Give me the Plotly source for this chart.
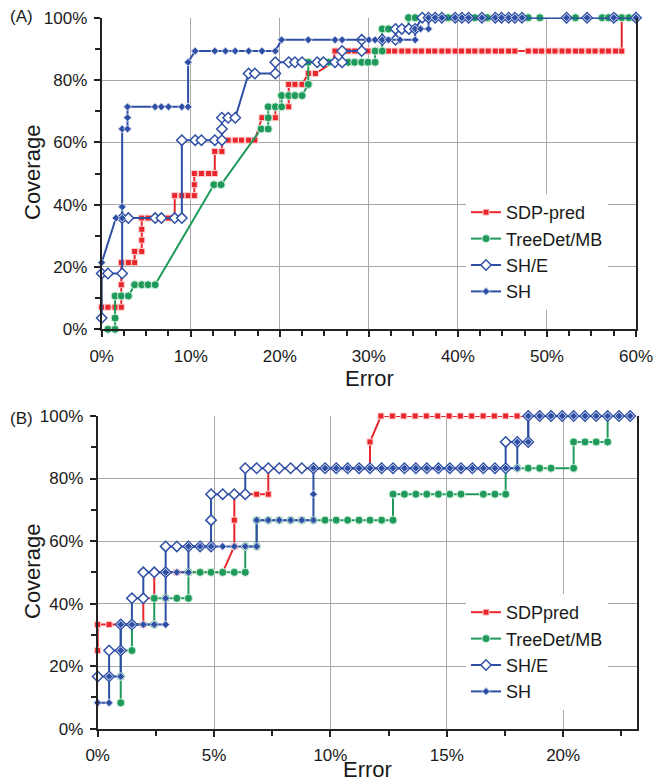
import plotly.graph_objects as go

# ---------------- Panel A data (Error %, Coverage %) ----------------
a_sdp_x = [0, 0.7, 1.5, 2.2, 2.2, 2.2, 3.0, 3.7, 3.7, 4.5, 4.5, 4.5, 4.5, 5.2, 6.0, 6.7, 7.5, 8.2, 8.2,
           9.0, 9.7, 10.4, 10.4, 10.4, 11.2, 12.0, 12.7, 12.7, 13.5, 13.5, 14.2, 15.0, 15.7, 16.5, 17.2,
           18.0, 18.7, 19.5, 19.5, 21.0, 21.0, 21.0, 21.7, 22.5, 23.2, 24.0, 26.0,
           26.2, 26.9, 27.7, 28.4, 29.2, 29.9, 30.7, 31.4, 32.2, 32.9, 33.7, 34.4, 35.2, 35.9, 36.7, 37.4,
           38.2, 38.9, 39.7, 40.4, 41.2, 41.9, 42.7, 43.4, 44.2, 44.9, 45.7, 46.4, 47.9, 48.7, 49.4, 50.2,
           50.9, 51.7, 52.4, 53.2, 53.9, 54.7, 55.4, 56.2, 56.9, 57.7, 58.4, 58.4]
a_sdp_y = [7.1, 7.1, 7.1, 7.1, 14.3, 21.4, 21.4, 21.4, 25.0, 25.0, 28.6, 32.1, 35.7, 35.7, 35.7, 35.7, 35.7, 35.7, 42.9,
           42.9, 42.9, 42.9, 46.4, 50.0, 50.0, 50.0, 50.0, 57.1, 57.1, 60.7, 60.7, 60.7, 60.7, 60.7, 60.7,
           67.9, 67.9, 67.9, 71.4, 71.4, 75.0, 78.6, 78.6, 78.6, 82.1, 82.1, 85.7,
           89.3, 89.3, 89.3, 89.3, 89.3, 89.3, 89.3, 89.3, 89.3, 89.3, 89.3, 89.3, 89.3, 89.3, 89.3, 89.3,
           89.3, 89.3, 89.3, 89.3, 89.3, 89.3, 89.3, 89.3, 89.3, 89.3, 89.3, 89.3, 89.3, 89.3, 89.3, 89.3,
           89.3, 89.3, 89.3, 89.3, 89.3, 89.3, 89.3, 89.3, 89.3, 89.3, 89.3, 100.0]

a_tree_x = [0.7, 1.5, 1.5, 1.5, 2.2, 3.0, 3.7, 4.5, 5.2, 6.0, 12.6, 13.4, 17.9, 18.7, 18.7, 18.7, 19.5,
            20.2, 20.2, 21.0, 21.7, 22.5, 23.2, 23.2, 24.7, 25.5, 26.2, 27.7, 28.4, 29.2, 29.9, 30.7, 30.7,
            31.5, 31.5, 32.2, 34.45, 34.45, 35.2, 35.95, 38.9, 41.9, 43.3, 47.9, 49.2, 53.2, 56.2, 56.9,
            57.7, 58.4, 59.2, 59.9]
a_tree_y = [0.0, 0.0, 3.6, 10.7, 10.7, 10.7, 14.3, 14.3, 14.3, 14.3, 46.4, 46.4, 64.3, 64.3, 67.9, 71.4, 71.4,
            71.4, 75.0, 75.0, 75.0, 75.0, 78.6, 85.7, 85.7, 85.7, 85.7, 85.7, 85.7, 85.7, 85.7, 85.7, 89.3,
            89.3, 96.4, 96.4, 96.4, 100, 100, 100, 100, 100, 100, 100, 100, 100, 100, 100,
            100, 100, 100, 100]

a_she_x = [0, 0, 0.7, 2.3, 2.3, 3.0, 6.0, 6.7, 8.2, 9.0, 9.0, 10.5, 11.2, 12.7, 13.5, 13.5, 13.5, 14.2, 15.0,
           16.5, 17.2, 19.5, 19.5, 21.0, 21.7, 22.5, 24.2, 24.9, 26.2, 27.0, 27.0, 29.2, 29.2, 31.5, 33.0,
           33.0, 33.7, 34.5, 35.2, 36.0, 36.7, 37.45, 38.2, 39.7, 40.45, 41.2, 42.7, 44.2, 44.9, 45.7,
           46.4, 47.2, 52.2, 54.5, 57.5, 60.0]
a_she_y = [3.6, 17.9, 17.9, 17.9, 35.7, 35.7, 35.7, 35.7, 35.7, 35.7, 60.7, 60.7, 60.7, 60.7, 60.7, 64.3, 67.9, 67.9, 67.9,
           82.1, 82.1, 82.1, 85.7, 85.7, 85.7, 85.7, 85.7, 85.7, 85.7, 85.7, 89.3, 89.3, 92.9, 92.9, 92.9,
           96.4, 96.4, 96.4, 96.4, 100, 100, 100, 100, 100, 100, 100, 100, 100, 100, 100,
           100, 100, 100, 100, 100, 100]

a_sh_x = [0, 1.6, 2.3, 2.3, 2.3, 2.9, 2.9, 2.9, 6.0, 6.7, 7.5, 9.0, 9.7, 9.7, 10.5, 12.7, 13.9, 15.0, 16.5,
          18.0, 19.5, 20.2, 23.2, 26.2, 27.0, 30.0, 30.7, 31.5, 32.2, 33.5, 35.2, 35.2, 35.8, 36.7, 36.7,
          37.45, 38.2, 39.7, 40.45, 41.2, 42.7, 44.2, 44.9, 45.7, 46.4, 47.2, 52.2, 54.5, 57.5, 60.0]
a_sh_y = [21.4, 35.7, 35.7, 39.3, 64.3, 64.3, 67.9, 71.4, 71.4, 71.4, 71.4, 71.4, 71.4, 85.7, 89.3, 89.3, 89.3, 89.3, 89.3,
          89.3, 89.3, 92.9, 92.9, 92.9, 92.9, 92.9, 92.9, 92.9, 92.9, 92.9, 92.9, 96.4, 96.4, 96.4, 100,
          100, 100, 100, 100, 100, 100, 100, 100, 100, 100, 100, 100, 100, 100, 100]

# ---------------- Panel B data (Error %, Coverage %) ----------------
b_sdp_x = [0, 0, 0.49, 0.99, 1.47, 1.96, 1.96, 2.43, 2.43, 2.92, 3.4, 3.9, 4.4, 4.87, 5.37, 5.87, 5.87, 5.87,
           6.34, 6.83, 7.33, 7.33, 7.8, 8.29, 8.77, 9.27, 9.77, 10.25, 10.74, 11.23, 11.7, 11.7, 12.17,
           12.66, 13.15, 13.64, 14.12, 14.61, 15.1, 15.58, 16.07, 16.56, 17.04, 17.53, 18.02, 18.5]
b_sdp_y = [25.0, 33.3, 33.3, 33.3, 33.3, 33.3, 41.7, 41.7, 50.0, 50.0, 50.0, 50.0, 50.0, 50.0, 50.0, 58.3, 66.7, 75.0,
           75.0, 75.0, 75.0, 83.3, 83.3, 83.3, 83.3, 83.3, 83.3, 83.3, 83.3, 83.3, 83.3, 91.7, 100,
           100, 100, 100, 100, 100, 100, 100, 100, 100, 100, 100, 100, 100]

b_tree_x = [0.99, 0.99, 0.99, 1.47, 1.47, 2.43, 2.43, 2.92, 3.4, 3.9, 3.9, 4.4, 4.87, 5.37, 5.87, 6.34, 6.34,
            6.83, 6.83, 7.33, 7.8, 8.29, 8.77, 9.27, 9.77, 10.25, 10.74, 11.23, 11.7, 12.2, 12.69, 12.69,
            13.18, 13.67, 14.14, 14.64, 15.13, 15.61, 16.57, 17.07, 17.53, 17.53, 18.03, 18.5, 18.99,
            19.48, 20.45, 20.45, 20.94, 21.42, 21.91, 21.91]
b_tree_y = [8.3, 16.7, 25.0, 25.0, 33.3, 33.3, 41.7, 41.7, 41.7, 41.7, 50.0, 50.0, 50.0, 50.0, 50.0, 50.0, 58.3,
            58.3, 66.7, 66.7, 66.7, 66.7, 66.7, 66.7, 66.7, 66.7, 66.7, 66.7, 66.7, 66.7, 66.7, 75.0,
            75.0, 75.0, 75.0, 75.0, 75.0, 75.0, 75.0, 75.0, 75.0, 83.3, 83.3, 83.3, 83.3,
            83.3, 83.3, 91.7, 91.7, 91.7, 91.7, 100]

b_she_x = [0, 0.49, 0.49, 0.99, 0.99, 1.47, 1.47, 1.96, 1.96, 2.43, 2.92, 2.92, 3.4, 3.9, 4.4, 4.87, 4.87, 4.87,
           5.37, 5.87, 6.34, 6.34, 6.83, 7.33, 7.8, 8.29, 8.77, 9.27, 9.77, 10.25, 10.74, 11.23, 11.7, 12.2,
           12.69, 13.18, 13.67, 14.14, 14.64, 15.13, 15.61, 16.1, 16.57, 17.07, 17.53, 17.53, 18.03, 18.5,
           18.5, 18.99, 19.48, 19.96, 20.45, 20.94, 21.42, 21.91, 22.4, 22.88]
b_she_y = [16.7, 16.7, 25.0, 25.0, 33.3, 33.3, 41.7, 41.7, 50.0, 50.0, 50.0, 58.3, 58.3, 58.3, 58.3, 58.3, 66.7, 75.0,
           75.0, 75.0, 75.0, 83.3, 83.3, 83.3, 83.3, 83.3, 83.3, 83.3, 83.3, 83.3, 83.3, 83.3, 83.3, 83.3,
           83.3, 83.3, 83.3, 83.3, 83.3, 83.3, 83.3, 83.3, 83.3, 83.3, 83.3, 91.7, 91.7, 91.7,
           100, 100, 100, 100, 100, 100, 100, 100, 100, 100]

b_sh_x = [0, 0.49, 0.49, 0.99, 0.99, 0.99, 1.47, 1.96, 2.43, 2.92, 2.92, 2.92, 3.4, 3.9, 3.9, 4.4, 4.87, 5.37,
          5.87, 6.34, 6.83, 6.83, 7.33, 7.8, 8.29, 8.77, 9.27, 9.27, 9.27, 9.77, 10.25, 10.74, 11.23, 11.7,
          12.2, 12.69, 13.18, 13.67, 14.14, 14.64, 15.13, 15.61, 16.1, 16.57, 17.07, 17.53, 18.03, 18.03,
          18.5, 18.5, 18.99, 19.48, 19.96, 20.45, 20.94, 21.42, 21.91, 22.4, 22.88]
b_sh_y = [8.3, 8.3, 16.7, 16.7, 25.0, 33.3, 33.3, 33.3, 33.3, 33.3, 41.7, 50.0, 50.0, 50.0, 58.3, 58.3, 58.3, 58.3,
          58.3, 58.3, 58.3, 66.7, 66.7, 66.7, 66.7, 66.7, 66.7, 75.0, 83.3, 83.3, 83.3, 83.3, 83.3, 83.3,
          83.3, 83.3, 83.3, 83.3, 83.3, 83.3, 83.3, 83.3, 83.3, 83.3, 83.3, 83.3, 83.3, 91.7,
          91.7, 100, 100, 100, 100, 100, 100, 100, 100, 100, 100]

names_a = ["SDP-pred", "TreeDet/MB", "SH/E", "SH"]
names_b = ["SDPpred", "TreeDet/MB", "SH/E", "SH"]

RED = "#e8262b"
GREEN = "#1f9a5b"
BLUE = "#2f4fa5"
FONT = "Arial, Liberation Sans, sans-serif"

styles = [
    dict(line=dict(color=RED, width=2), marker=dict(symbol="square", size=6, color=RED, line=dict(color="#ffd0d0", width=1))),
    dict(line=dict(color=GREEN, width=2), marker=dict(symbol="circle", size=8, color=GREEN, line=dict(color="#d0f0dc", width=1))),
    dict(line=dict(color=BLUE, width=2), marker=dict(symbol="diamond", size=8, color="white", line=dict(color=BLUE, width=1.5))),
    dict(line=dict(color=BLUE, width=2), marker=dict(symbol="diamond", size=6, color=BLUE, line=dict(color="#c8d2ee", width=1))),
]

fig = go.Figure()
data_a = [(a_sdp_x, a_sdp_y), (a_tree_x, a_tree_y), (a_she_x, a_she_y), (a_sh_x, a_sh_y)]
data_b = [(b_sdp_x, b_sdp_y), (b_tree_x, b_tree_y), (b_she_x, b_she_y), (b_sh_x, b_sh_y)]

for i, ((x, y), nm) in enumerate(zip(data_a, names_a)):
    fig.add_trace(go.Scatter(x=x, y=y, name=nm, mode="lines+markers", xaxis="x", yaxis="y",
                             legend="legend", legendgroup="a%d" % i, cliponaxis=False, **styles[i]))
for i, ((x, y), nm) in enumerate(zip(data_b, names_b)):
    fig.add_trace(go.Scatter(x=x, y=y, name=nm, mode="lines+markers", xaxis="x2", yaxis="y2",
                             legend="legend2", legendgroup="b%d" % i, cliponaxis=False, **styles[i]))

W, H = 656, 784
def fx(px):
    return px / W
def fy(py):
    return 1 - py / H

tickfont = dict(family=FONT, size=17, color="#1a1a1a")
common_x = dict(showgrid=True, gridcolor="#a8a8a8", gridwidth=1, showline=True, linecolor="#222", linewidth=2,
                ticks="outside", ticklen=6, tickwidth=1.5, tickcolor="#222", ticksuffix="%", tickfont=tickfont,
                zeroline=False, ticklabelstandoff=4, automargin=False)
common_y = dict(showgrid=True, gridcolor="#a8a8a8", gridwidth=1, showline=True, linecolor="#222", linewidth=2,
                mirror=True, ticks="outside", ticklen=6, tickwidth=1.5, tickcolor="#222", ticksuffix="%",
                tickfont=tickfont, zeroline=False, range=[0, 100], dtick=20, ticklabelstandoff=3, automargin=False,
                minor=dict(dtick=10, ticks="outside", ticklen=5, tickcolor="#222", showgrid=False))

legend_style = dict(bgcolor="white", borderwidth=0, font=dict(family=FONT, size=18, color="#1a1a1a"),
                    tracegroupgap=0, itemwidth=30, xanchor="left", yanchor="top")

fig.update_layout(
    width=W, height=H, margin=dict(l=0, r=0, t=0, b=0, autoexpand=False),
    paper_bgcolor="white", plot_bgcolor="white",
    xaxis=dict(domain=[fx(101.7), fx(636)], anchor="y", range=[0, 60], dtick=10,
               minor=dict(dtick=2.5, ticks="outside", ticklen=5, tickcolor="#222", showgrid=False), **common_x),
    yaxis=dict(domain=[fy(329.3), fy(17.7)], anchor="x", **common_y),
    xaxis2=dict(domain=[fx(97.7), fx(636.7)], anchor="y2", range=[0, 23.16], dtick=5,
                minor=dict(dtick=2.5, ticks="outside", ticklen=5, tickcolor="#222", showgrid=False), **common_x),
    yaxis2=dict(domain=[fy(728.7), fy(416)], anchor="x2", **common_y),
    legend=dict(x=fx(466), y=fy(194), **legend_style),
    legend2=dict(x=fx(466), y=fy(594), **legend_style),
    showlegend=True,
    annotations=[
        dict(text="(A)", x=fx(8), y=fy(17), xref="paper", yref="paper", xanchor="left", yanchor="middle",
             showarrow=False, font=dict(family=FONT, size=17, color="#1a1a1a")),
        dict(text="(B)", x=fx(8), y=fy(418), xref="paper", yref="paper", xanchor="left", yanchor="middle",
             showarrow=False, font=dict(family=FONT, size=17, color="#1a1a1a")),
        dict(text="Coverage", x=fx(32), y=fy(173), xref="paper", yref="paper", textangle=-90,
             xanchor="center", yanchor="middle", showarrow=False, font=dict(family=FONT, size=22, color="#1a1a1a")),
        dict(text="Coverage", x=fx(32), y=fy(572), xref="paper", yref="paper", textangle=-90,
             xanchor="center", yanchor="middle", showarrow=False, font=dict(family=FONT, size=22, color="#1a1a1a")),
        dict(text="Error", x=fx(369), y=fy(378), xref="paper", yref="paper",
             xanchor="center", yanchor="middle", showarrow=False, font=dict(family=FONT, size=22, color="#1a1a1a")),
        dict(text="Error", x=fx(367), y=0, xref="paper", yref="paper",
             xanchor="center", yanchor="bottom", showarrow=False, font=dict(family=FONT, size=22, color="#1a1a1a")),
    ],
)

fig.write_html("out.html")
